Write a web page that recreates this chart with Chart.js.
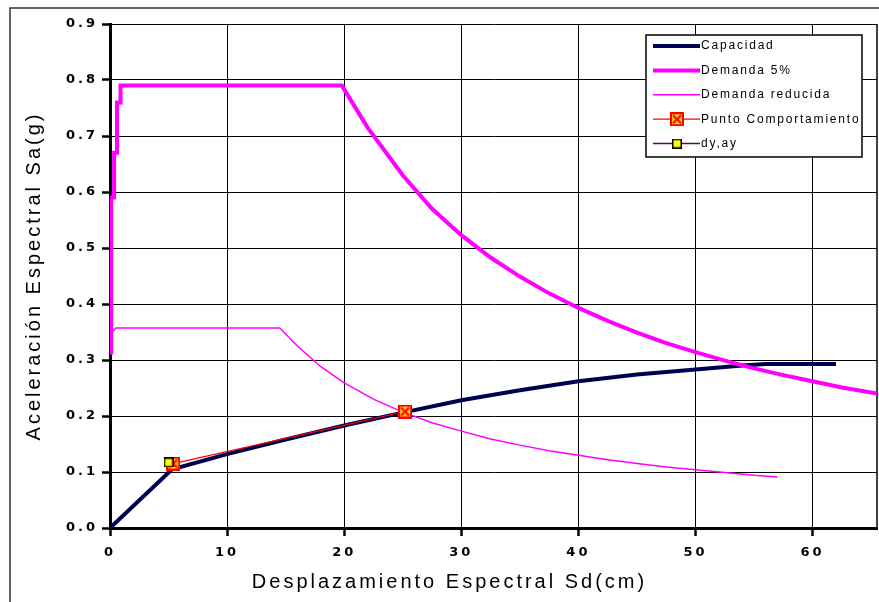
<!DOCTYPE html>
<html>
<head>
<meta charset="utf-8">
<script src="https://cdn.jsdelivr.net/npm/chart.js@4.4.1/dist/chart.umd.min.js"></script>
<style>
  body { margin: 0; background: #fff; }
  canvas { display: block; }
</style>
</head>
<body>
<canvas id="espectroChart" width="879" height="602"></canvas>
<script>
// Curva de capacidad
const capacidadSd = [0, 5.3, 10, 15, 20, 25, 30, 35, 40, 45, 50, 54, 56, 62];
const capacidadSa = [0, 0.105, 0.132, 0.158, 0.183, 0.206, 0.228, 0.246, 0.262, 0.274, 0.283, 0.290, 0.293, 0.293];

// Espectro de demanda 5%
const demandaSd = [0.1, 0.1, 0.35, 0.35, 0.6, 0.6, 0.9, 0.9, 19.8, 22, 25, 27.5, 30, 32.5, 35, 37.5, 40, 42.5, 45, 47.5, 50, 52.5, 55, 57.5, 60, 62.5, 65.5];
const demandaSa = [0.31, 0.59, 0.59, 0.67, 0.67, 0.76, 0.76, 0.79, 0.79, 0.715, 0.63, 0.57, 0.523, 0.483, 0.449, 0.419, 0.393, 0.37, 0.349, 0.33, 0.314, 0.299, 0.285, 0.273, 0.262, 0.251, 0.24];

// Espectro de demanda reducida
const reducidaSd = [0.1, 0.2, 0.5, 14.5, 16, 18, 20, 22.5, 25, 27.5, 30, 32.5, 35, 37.5, 40, 42.5, 45, 47.5, 50, 52.5, 55, 57];
const reducidaSa = [0.31, 0.35, 0.357, 0.357, 0.325, 0.288, 0.259, 0.23, 0.207, 0.188, 0.173, 0.159, 0.148, 0.138, 0.13, 0.122, 0.115, 0.109, 0.104, 0.099, 0.094, 0.091];

// Punto de comportamiento y fluencia
const puntoSd = [5.4, 25.2];
const puntoSa = [0.115, 0.208];
const fluenciaSd = [5.0];
const fluenciaSa = [0.117];

// Ejes
const xMax = 65.5;
const yMax = 0.9;
const xTitle = 'Desplazamiento Espectral Sd(cm)';
const yTitle = 'Aceleración Espectral Sa(g)';

const toPoints = (xs, ys) => xs.map((x, i) => ({ x, y: ys[i] }));

function makeMarker(size, draw) {
  const c = document.createElement('canvas');
  c.width = size;
  c.height = size;
  draw(c.getContext('2d'), size);
  return c;
}

const puntoMarker = makeMarker(14, (g, s) => {
  g.fillStyle = '#ffcc00';
  g.fillRect(0, 0, s, s);
  g.strokeStyle = '#ff0000';
  g.lineWidth = 2;
  g.strokeRect(1, 1, s - 2, s - 2);
  g.beginPath();
  g.moveTo(3, 3); g.lineTo(s - 3, s - 3);
  g.moveTo(s - 3, 3); g.lineTo(3, s - 3);
  g.stroke();
});

const fluenciaMarker = makeMarker(10, (g, s) => {
  g.fillStyle = '#ffff00';
  g.fillRect(0, 0, s, s);
  g.strokeStyle = '#000';
  g.lineWidth = 1.5;
  g.strokeRect(0.75, 0.75, s - 1.5, s - 1.5);
});

// Espaciado de letras como en la figura original
const spacing = {
  id: 'spacing',
  beforeUpdate(chart) { chart.ctx.letterSpacing = '3px'; },
  beforeLayout(chart) { chart.ctx.letterSpacing = '3px'; },
  beforeDraw(chart) { chart.ctx.letterSpacing = '3px'; }
};

// Fondo, marco exterior y borde derecho del area
const frame = {
  id: 'frame',
  beforeDraw(chart) {
    const ctx = chart.ctx;
    ctx.save();
    ctx.fillStyle = '#fff';
    ctx.fillRect(0, 0, chart.width, chart.height);
    ctx.strokeStyle = '#333';
    ctx.lineWidth = 1.5;
    ctx.beginPath();
    ctx.moveTo(10, chart.height);
    ctx.lineTo(10, 8);
    ctx.lineTo(chart.width, 8);
    ctx.stroke();
    ctx.restore();
  },
  beforeDatasetsDraw(chart) {
    const { ctx, chartArea } = chart;
    ctx.save();
    ctx.strokeStyle = '#000';
    ctx.lineWidth = 1.5;
    ctx.beginPath();
    ctx.moveTo(chartArea.right, chartArea.top);
    ctx.lineTo(chartArea.right, chartArea.bottom);
    ctx.stroke();
    ctx.restore();
  }
};

// Leyenda dentro del area del grafico
const boxLegend = {
  id: 'boxLegend',
  afterDraw(chart) {
    const { ctx, chartArea } = chart;
    const left = chartArea.right - 231;
    const top = chartArea.top + 11;
    ctx.save();
    ctx.letterSpacing = '1.8px';
    ctx.fillStyle = '#fff';
    ctx.fillRect(left, top, 216, 122);
    ctx.strokeStyle = '#000';
    ctx.lineWidth = 1.5;
    ctx.strokeRect(left, top, 216, 122);
    ctx.font = '12px "Liberation Sans", Arial, sans-serif';
    ctx.textBaseline = 'middle';
    chart.data.datasets.forEach((ds, i) => {
      const y = top + 11 + i * 24.4;
      ctx.strokeStyle = ds.borderColor;
      ctx.lineWidth = ds.borderWidth;
      ctx.beginPath();
      ctx.moveTo(left + 7, y);
      ctx.lineTo(left + 54, y);
      ctx.stroke();
      if (ds.pointStyle instanceof HTMLCanvasElement) {
        const m = ds.pointStyle;
        ctx.drawImage(m, left + 31 - m.width / 2, y - m.height / 2);
      }
      ctx.fillStyle = '#000';
      ctx.fillText(ds.label, left + 55, y);
    });
    ctx.restore();
  }
};

const ctx = document.getElementById('espectroChart').getContext('2d');

new Chart(ctx, {
  type: 'scatter',
  data: {
    datasets: [
      {
        label: 'Capacidad',
        data: toPoints(capacidadSd, capacidadSa),
        borderColor: '#000050',
        borderWidth: 4,
        showLine: true,
        pointRadius: 0,
        order: 4
      },
      {
        label: 'Demanda 5%',
        data: toPoints(demandaSd, demandaSa),
        borderColor: '#ff00ff',
        borderWidth: 4,
        showLine: true,
        pointRadius: 0,
        order: 3
      },
      {
        label: 'Demanda reducida',
        data: toPoints(reducidaSd, reducidaSa),
        borderColor: '#ff00ff',
        borderWidth: 1.5,
        showLine: true,
        pointRadius: 0,
        order: 2
      },
      {
        label: 'Punto Comportamiento',
        data: toPoints(puntoSd, puntoSa),
        borderColor: '#ff0000',
        borderWidth: 1.2,
        showLine: true,
        pointStyle: puntoMarker,
        pointRadius: 7,
        order: 1
      },
      {
        label: 'dy,ay',
        data: toPoints(fluenciaSd, fluenciaSa),
        borderColor: '#660066',
        borderWidth: 1.5,
        showLine: true,
        pointStyle: fluenciaMarker,
        pointRadius: 5,
        order: 0
      }
    ]
  },
  options: {
    responsive: false,
    devicePixelRatio: 1,
    animation: false,
    layout: { autoPadding: false, padding: { left: 22, top: 24, right: 2, bottom: 0 } },
    scales: {
      x: {
        type: 'linear',
        min: 0,
        max: xMax,
        afterFit: (scale) => {
          scale.height = 42;
          scale.paddingLeft = 0;
          scale.paddingRight = 0;
        },
        ticks: {
          stepSize: 10,
          includeBounds: false,
          padding: 9,
          color: '#000',
          font: { family: '"DejaVu Sans", sans-serif', size: 13, weight: 'bold' }
        },
        grid: { color: '#000', lineWidth: 1, tickLength: 8, tickWidth: 2.5, tickColor: '#000' },
        border: { color: '#000', width: 3 }
      },
      y: {
        type: 'linear',
        min: 0,
        max: yMax,
        afterFit: (scale) => { scale.width = 88; },
        ticks: {
          stepSize: 0.1,
          padding: 4,
          color: '#000',
          font: { family: '"DejaVu Sans", sans-serif', size: 13, weight: 'bold' },
          callback: (v) => v.toFixed(1)
        },
        grid: { color: '#000', lineWidth: 1, tickLength: 8, tickWidth: 2.5, tickColor: '#000' },
        border: { color: '#000', width: 3 },
        title: {
          display: true,
          text: yTitle,
          color: '#000',
          padding: { top: 0, bottom: 0 },
          font: { family: '"Liberation Sans", Arial, sans-serif', size: 20 }
        }
      }
    },
    plugins: {
      legend: { display: false },
      tooltip: { enabled: false },
      title: {
        display: true,
        position: 'bottom',
        text: xTitle,
        color: '#000',
        padding: { top: 0, bottom: 8 },
        font: { family: '"Liberation Sans", Arial, sans-serif', size: 20, weight: 'normal' }
      }
    }
  },
  plugins: [spacing, frame, boxLegend]
});
</script>
</body>
</html>
